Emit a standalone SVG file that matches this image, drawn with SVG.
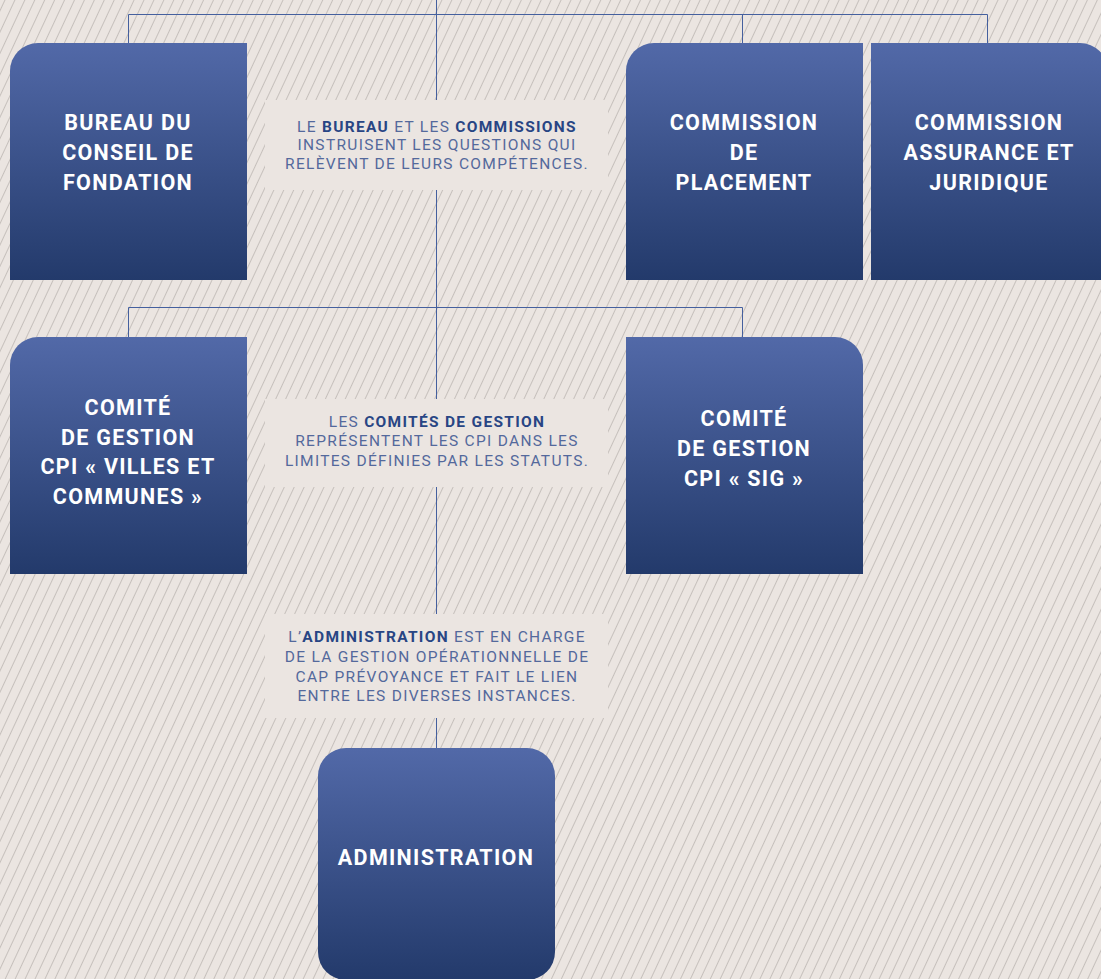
<svg xmlns="http://www.w3.org/2000/svg" width="1101" height="979" viewBox="0 0 1101 979">
<defs>
<pattern id="hatch" width="9" height="20" patternUnits="userSpaceOnUse" patternTransform="rotate(25)">
<rect width="9" height="20" fill="#ebe5e1"/>
<line x1="4.5" y1="0" x2="4.5" y2="20" stroke="#c6c0bc" stroke-width="1"/>
</pattern>
<linearGradient id="bg" x1="0" y1="0" x2="0" y2="1">
<stop offset="0" stop-color="#5269a8"/>
<stop offset="1" stop-color="#233a6b"/>
</linearGradient>
<style>
.box{fill:url(#bg);}
.t{font-family:Roboto,"Liberation Sans",sans-serif;font-weight:700;font-size:21.5px;letter-spacing:1.3px;fill:#ffffff;text-anchor:middle;}
.note{fill:#ebe5e1;}
.n{font-family:Roboto,"Liberation Sans",sans-serif;font-weight:400;font-size:15.5px;letter-spacing:1.3px;fill:#54699c;text-anchor:middle;}
.b{font-weight:700;fill:#284584;}
.c{fill:none;stroke:#45609e;stroke-width:1;}
</style>
</defs>
<rect width="1101" height="979" fill="url(#hatch)"/>
<g id="connectors">
<line class="c" x1="436.5" y1="0" x2="436.5" y2="748"/>
<polyline class="c" points="128.5,43 128.5,14.5 987.5,14.5 987.5,43"/>
<line class="c" x1="742.5" y1="14.5" x2="742.5" y2="43"/>
<polyline class="c" points="128.5,337 128.5,307.5 742.5,307.5 742.5,337"/>
</g>
<g id="note1">
<rect class="note" x="265" y="100" width="343" height="90"/>
<text class="n" x="437" y="132"><tspan>LE </tspan><tspan class="b">BUREAU</tspan><tspan> ET LES </tspan><tspan class="b">COMMISSIONS</tspan></text>
<text class="n" x="437" y="150">INSTRUISENT LES QUESTIONS QUI</text>
<text class="n" x="437" y="169">RELÈVENT DE LEURS COMPÉTENCES.</text>
</g>
<g id="note2">
<rect class="note" x="265" y="399" width="343" height="88"/>
<text class="n" x="437" y="427"><tspan>LES </tspan><tspan class="b">COMITÉS DE GESTION</tspan></text>
<text class="n" x="437" y="446">REPRÉSENTENT LES CPI DANS LES</text>
<text class="n" x="437" y="466">LIMITES DÉFINIES PAR LES STATUTS.</text>
</g>
<g id="note3">
<rect class="note" x="265" y="614" width="343" height="104"/>
<text class="n" x="437" y="642"><tspan>L’</tspan><tspan class="b">ADMINISTRATION</tspan><tspan> EST EN CHARGE</tspan></text>
<text class="n" x="437" y="662">DE LA GESTION OPÉRATIONNELLE DE</text>
<text class="n" x="437" y="682">CAP PRÉVOYANCE ET FAIT LE LIEN</text>
<text class="n" x="437" y="701">ENTRE LES DIVERSES INSTANCES.</text>
</g>
<g id="bureau">
<path class="box" d="M10,280 V71 A28,28 0 0 1 38,43 H247 V280 Z"/>
<text class="t" x="128" y="130">BUREAU DU</text>
<text class="t" x="128" y="160">CONSEIL DE</text>
<text class="t" x="128" y="190">FONDATION</text>
</g>
<g id="placement">
<path class="box" d="M626,280 V71 A28,28 0 0 1 654,43 H863 V280 Z"/>
<text class="t" x="744" y="130">COMMISSION</text>
<text class="t" x="744" y="160">DE</text>
<text class="t" x="744" y="190">PLACEMENT</text>
</g>
<g id="assurance">
<path class="box" d="M871,280 V43 H1080 A28,28 0 0 1 1108,71 V280 Z"/>
<text class="t" x="989" y="130">COMMISSION</text>
<text class="t" x="989" y="160">ASSURANCE ET</text>
<text class="t" x="989" y="190">JURIDIQUE</text>
</g>
<g id="villes">
<path class="box" d="M10,574 V365 A28,28 0 0 1 38,337 H247 V574 Z"/>
<text class="t" x="128" y="415">COMITÉ</text>
<text class="t" x="128" y="445">DE GESTION</text>
<text class="t" x="128" y="474">CPI « VILLES ET</text>
<text class="t" x="128" y="504">COMMUNES »</text>
</g>
<g id="sig">
<path class="box" d="M626,574 V337 H835 A28,28 0 0 1 863,365 V574 Z"/>
<text class="t" x="744" y="426">COMITÉ</text>
<text class="t" x="744" y="456">DE GESTION</text>
<text class="t" x="744" y="486">CPI « SIG »</text>
</g>
<g id="administration">
<rect class="box" x="318" y="748" width="237" height="232" rx="28" ry="28"/>
<text class="t" x="436" y="865">ADMINISTRATION</text>
</g>
</svg>
